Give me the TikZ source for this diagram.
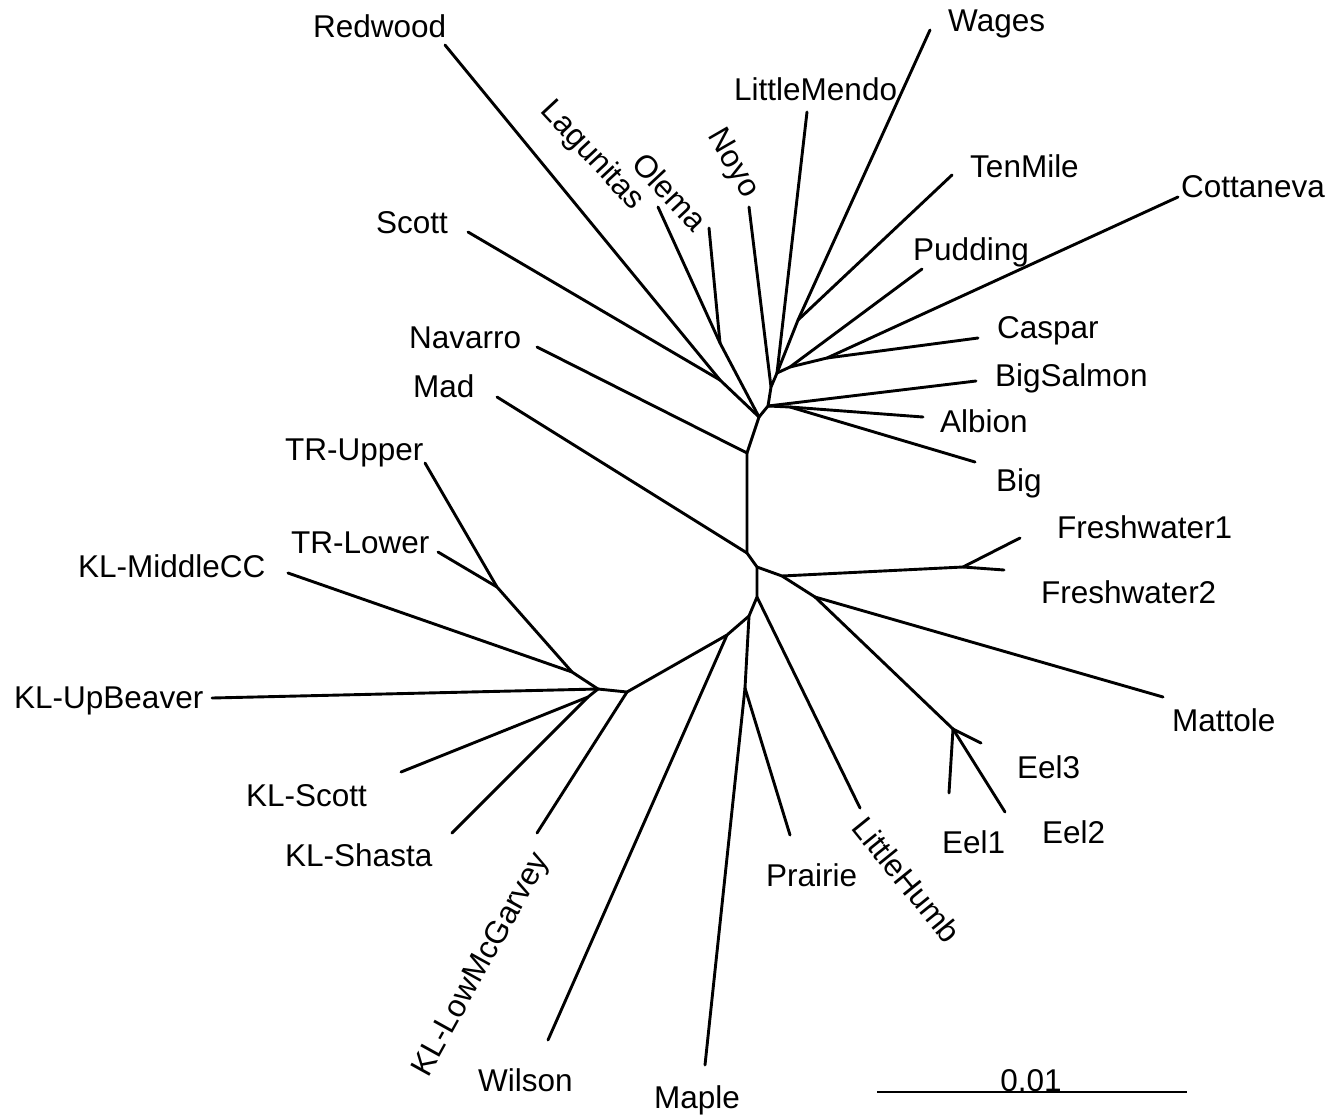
\documentclass[tikz,border=0pt]{standalone}
\usepackage{fontspec}
\setmainfont{Liberation Sans}
\usepackage{tikz}

\begin{document}
\begin{tikzpicture}[
    x=1pt, y=-1pt,
    branch/.style={draw=black, line width=2.9pt, line cap=round, line join=round},
    leaf/.style={inner sep=0pt, anchor=base west,
    font=\fontsize{31.5}{37}\selectfont},
    rleaf/.style={inner sep=0pt, anchor=center,
    font=\fontsize{31.5}{37}\selectfont} ]

    \useasboundingbox (0,0) rectangle (1333,1117);

    % Inner nodes of the tree
    \coordinate (j_a) at (759,417);
    \coordinate (j_nav) at (747,453);
    \coordinate (j_mad) at (747,553);
    \coordinate (j_c) at (757,567);
    \coordinate (j_f0) at (782,576);
    \coordinate (j_fw) at (963,567);
    \coordinate (j_mt) at (815,597);
    \coordinate (j_eel) at (953,729);
    \coordinate (j_d) at (757,597);
    \coordinate (j_w) at (749,616);
    \coordinate (j_pm) at (745,688);
    \coordinate (j_kw) at (727,635);
    \coordinate (j_k2) at (627,692);
    \coordinate (j_k1) at (598,689);
    \coordinate (j_ss) at (588,697);
    \coordinate (j_mc) at (572,672);
    \coordinate (j_tr) at (497,587);
    \coordinate (j_rs) at (720,380);
    \coordinate (j_lo) at (720,343);
    \coordinate (j_b) at (768,406);
    \coordinate (j_ab) at (790,407);
    \coordinate (j_no) at (771,387);
    \coordinate (j_u) at (777,373);
    \coordinate (j_wt) at (798,320);
    \coordinate (j_pc) at (790,367);
    \coordinate (j_cc) at (827,358);

    % Tips of the branches
    \coordinate (t_redwood) at (445,45);
    \coordinate (t_scott) at (468,232);
    \coordinate (t_navarro) at (537,347);
    \coordinate (t_mad) at (497,397);
    \coordinate (t_lagunitas) at (658,207);
    \coordinate (t_olema) at (709,228);
    \coordinate (t_noyo) at (749,207);
    \coordinate (t_littlemendo) at (807,112);
    \coordinate (t_wages) at (930,30);
    \coordinate (t_tenmile) at (952,175);
    \coordinate (t_pudding) at (922,269);
    \coordinate (t_cottaneva) at (1178,197);
    \coordinate (t_caspar) at (978,338);
    \coordinate (t_bigsalmon) at (976,381);
    \coordinate (t_albion) at (923,417);
    \coordinate (t_big) at (975,462);
    \coordinate (t_fresh1) at (1020,538);
    \coordinate (t_fresh2) at (1004,570);
    \coordinate (t_mattole) at (1163,697);
    \coordinate (t_eel3) at (981,743);
    \coordinate (t_eel1) at (949,793);
    \coordinate (t_eel2) at (1005,812);
    \coordinate (t_littlehumb) at (860,808);
    \coordinate (t_prairie) at (790,835);
    \coordinate (t_maple) at (705,1065);
    \coordinate (t_wilson) at (548,1040);
    \coordinate (t_lowmcg) at (537,833);
    \coordinate (t_shasta) at (452,833);
    \coordinate (t_klscott) at (401,772);
    \coordinate (t_upbeaver) at (212,698);
    \coordinate (t_middlecc) at (288,573);
    \coordinate (t_trlower) at (438,552);
    \coordinate (t_trupper) at (425,463);

    % Labels
    \node[leaf] (l_redwood) at (313,37) {Redwood};
    \node[leaf] (l_scott) at (376,233) {Scott};
    \node[leaf] (l_navarro) at (409,348) {Navarro};
    \node[leaf] (l_mad) at (413,397) {Mad};
    \node[rleaf, rotate=-47] (l_lagunitas) at (592,156) {Lagunitas};
    \node[rleaf, rotate=-47] (l_olema) at (670,192) {Olema};
    \node[rleaf, rotate=-60] (l_noyo) at (732,164) {Noyo};
    \node[leaf] (l_littlemendo) at (734,100) {LittleMendo};
    \node[leaf] (l_wages) at (948,31) {Wages};
    \node[leaf] (l_tenmile) at (970,177) {TenMile};
    \node[leaf] (l_pudding) at (913,260) {Pudding};
    \node[leaf] (l_cottaneva) at (1181,197) {Cottaneva};
    \node[leaf] (l_caspar) at (997,338) {Caspar};
    \node[leaf] (l_bigsalmon) at (995,386) {BigSalmon};
    \node[leaf] (l_albion) at (940,432) {Albion};
    \node[leaf] (l_big) at (996,491) {Big};
    \node[leaf] (l_fresh1) at (1057,538) {Freshwater1};
    \node[leaf] (l_fresh2) at (1041,603) {Freshwater2};
    \node[leaf] (l_mattole) at (1172,731) {Mattole};
    \node[leaf] (l_eel3) at (1017,778) {Eel3};
    \node[leaf] (l_eel2) at (1042,843) {Eel2};
    \node[leaf] (l_eel1) at (942,853) {Eel1};
    \node[rleaf, rotate=-51] (l_littlehumb) at (907,880) {LittleHumb};
    \node[leaf] (l_prairie) at (766,886) {Prairie};
    \node[leaf] (l_maple) at (654,1108) {Maple};
    \node[leaf] (l_wilson) at (478,1091) {Wilson};
    \node[rleaf, rotate=61] (l_lowmcg) at (482,965) {KL-LowMcGarvey};
    \node[leaf] (l_shasta) at (285,866) {KL-Shasta};
    \node[leaf] (l_klscott) at (246,806) {KL-Scott};
    \node[leaf] (l_upbeaver) at (14,708) {KL-UpBeaver};
    \node[leaf] (l_middlecc) at (78,577) {KL-MiddleCC};
    \node[leaf] (l_trlower) at (291,553) {TR-Lower};
    \node[leaf] (l_trupper) at (285,460) {TR-Upper};

    % Backbone
    \draw[branch] (j_a) -- (j_nav) -- (j_mad) -- (j_c) -- (j_d) -- (j_w)
        -- (j_kw) -- (j_k2) -- (j_k1);
    \draw[branch] (j_c) -- (j_f0) -- (j_mt);

    % Upper group
    \draw[branch] (t_redwood) -- (j_rs) -- (j_a);
    \draw[branch] (t_scott) -- (j_rs);
    \draw[branch] (t_lagunitas) -- (j_lo) -- (j_a);
    \draw[branch] (t_olema) -- (j_lo);
    \draw[branch] (j_a) -- (j_b) -- (j_no) -- (j_u);
    \draw[branch] (t_noyo) -- (j_no);
    \draw[branch] (t_littlemendo) -- (j_u);
    \draw[branch] (t_wages) -- (j_wt) -- (j_u);
    \draw[branch] (t_tenmile) -- (j_wt);
    \draw[branch] (t_pudding) -- (j_pc) -- (j_u);
    \draw[branch] (t_cottaneva) -- (j_cc) -- (j_pc);
    \draw[branch] (t_caspar) -- (j_cc);
    \draw[branch] (t_bigsalmon) -- (j_b);
    \draw[branch] (j_b) -- (j_ab);
    \draw[branch] (t_albion) -- (j_ab);
    \draw[branch] (t_big) -- (j_ab);
    \draw[branch] (t_navarro) -- (j_nav);
    \draw[branch] (t_mad) -- (j_mad);

    % Right group
    \draw[branch] (j_f0) -- (j_fw);
    \draw[branch] (t_fresh1) -- (j_fw);
    \draw[branch] (t_fresh2) -- (j_fw);
    \draw[branch] (t_mattole) -- (j_mt);
    \draw[branch] (j_mt) -- (j_eel);
    \draw[branch] (t_eel3) -- (j_eel);
    \draw[branch] (t_eel1) -- (j_eel);
    \draw[branch] (t_eel2) -- (j_eel);

    % Lower group
    \draw[branch] (t_littlehumb) -- (j_d);
    \draw[branch] (j_w) -- (j_pm);
    \draw[branch] (t_prairie) -- (j_pm);
    \draw[branch] (t_maple) -- (j_pm);
    \draw[branch] (t_wilson) -- (j_kw);
    \draw[branch] (t_lowmcg) -- (j_k2);
    \draw[branch] (t_upbeaver) -- (j_k1);
    \draw[branch] (t_klscott) -- (j_ss) -- (j_k1);
    \draw[branch] (t_shasta) -- (j_ss);
    \draw[branch] (t_middlecc) -- (j_mc) -- (j_k1);
    \draw[branch] (t_trupper) -- (j_tr) -- (j_mc);
    \draw[branch] (t_trlower) -- (j_tr);

    % Scale bar
    \coordinate (s_left) at (877,1092);
    \coordinate (s_right) at (1187,1092);
    \draw[branch, line cap=butt] (s_left) -- (s_right);
    \node[leaf, anchor=base] (l_scale) at (1031,1091) {0.01};

\end{tikzpicture}
\end{document}
